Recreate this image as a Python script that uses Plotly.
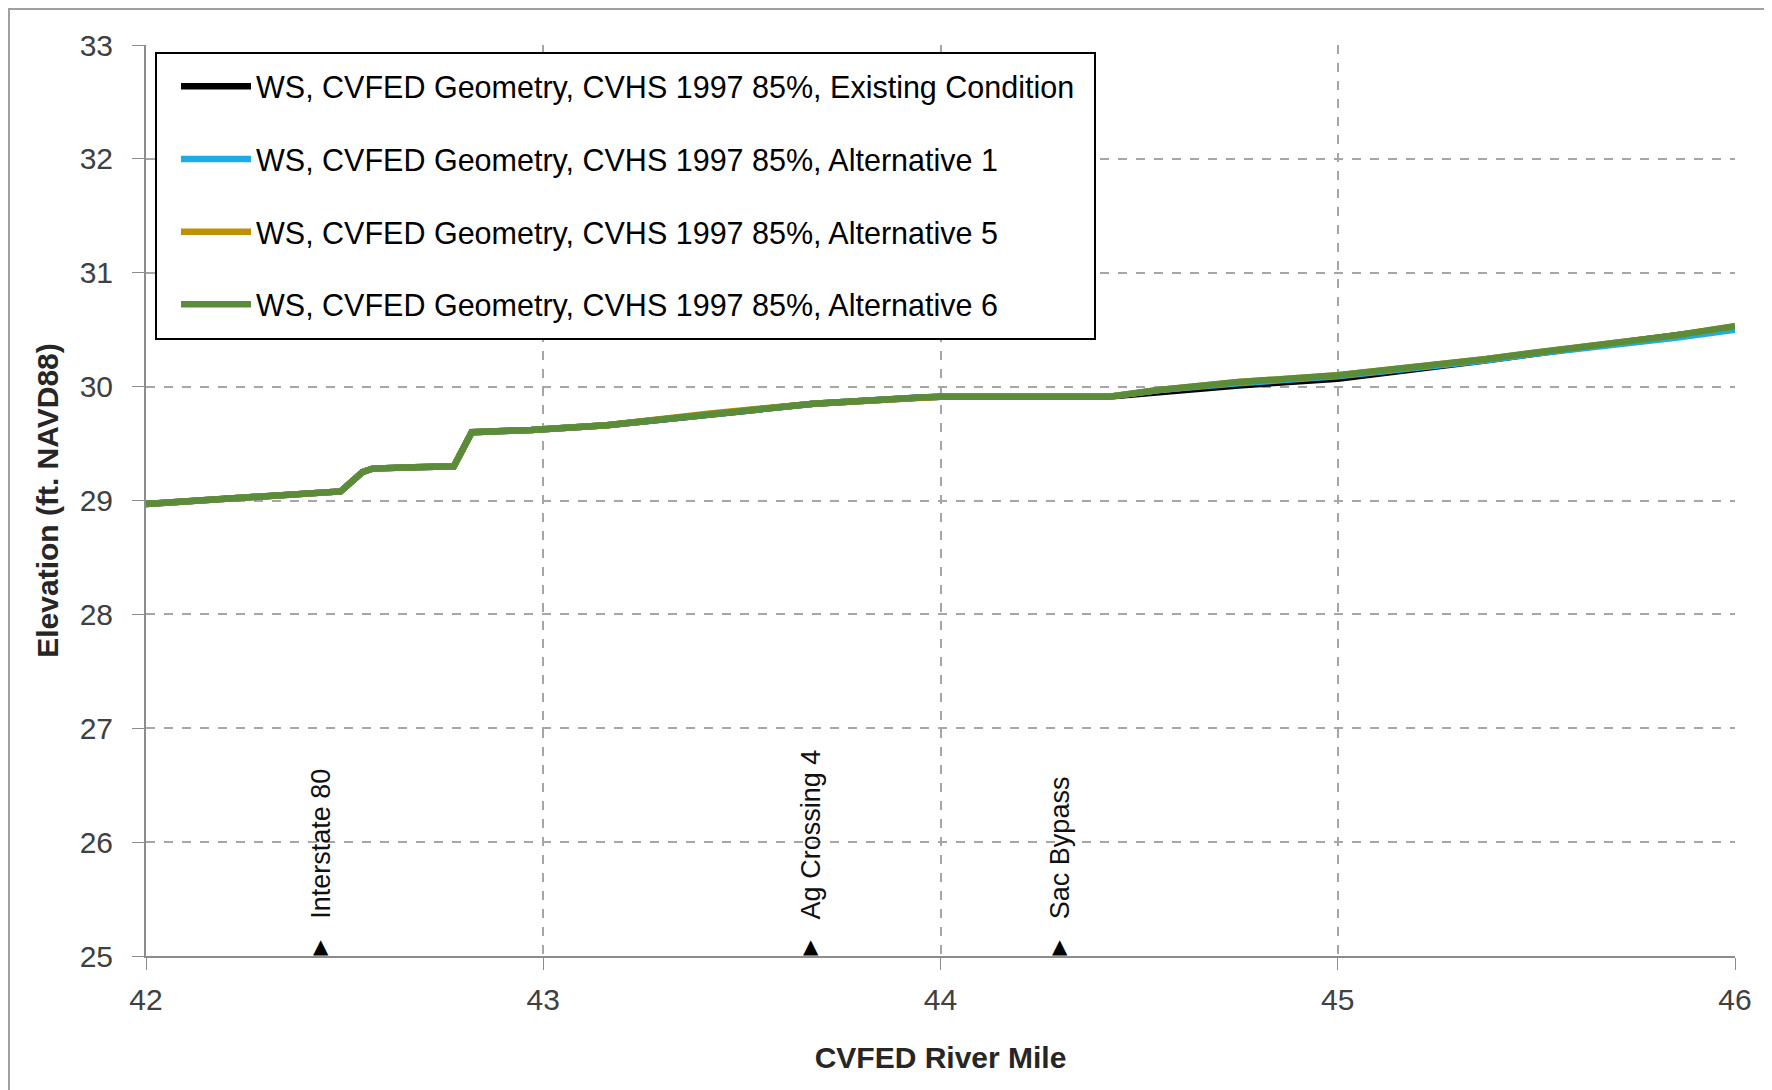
import plotly.graph_objects as go

# river mile stations
river_mile = [42.0, 42.1, 42.2, 42.3, 42.4, 42.49, 42.545, 42.57, 42.65, 42.775, 42.82, 42.9,
              42.97, 43.16, 43.42, 43.68, 43.95, 44.0, 44.2, 44.42, 44.55, 44.75, 45.0, 45.2,
              45.37, 45.5, 45.68, 45.85, 46.0]

ws_existing = [28.97, 28.99, 29.01, 29.04, 29.06, 29.08, 29.25, 29.28, 29.29, 29.30, 29.60, 29.61,
               29.62, 29.66, 29.76, 29.85, 29.905, 29.91, 29.91, 29.91, 29.95, 30.01, 30.07, 30.15,
               30.23, 30.29, 30.37, 30.45, 30.52]
ws_alt1 = [28.97, 28.99, 29.01, 29.04, 29.06, 29.08, 29.25, 29.28, 29.29, 29.30, 29.60, 29.61,
           29.62, 29.66, 29.76, 29.85, 29.905, 29.91, 29.91, 29.91, 29.97, 30.03, 30.09, 30.16,
           30.23, 30.29, 30.36, 30.43, 30.50]
ws_alt5 = [28.97, 28.99, 29.01, 29.04, 29.06, 29.08, 29.25, 29.28, 29.29, 29.30, 29.60, 29.61,
           29.62, 29.66, 29.765, 29.85, 29.905, 29.91, 29.91, 29.91, 29.97, 30.04, 30.10, 30.17,
           30.24, 30.30, 30.375, 30.45, 30.53]
ws_alt6 = [28.97, 28.99, 29.01, 29.04, 29.06, 29.08, 29.25, 29.28, 29.29, 29.30, 29.60, 29.61,
           29.62, 29.66, 29.76, 29.85, 29.905, 29.91, 29.91, 29.91, 29.97, 30.04, 30.10, 30.17,
           30.24, 30.30, 30.375, 30.45, 30.53]

series_names = ["WS, CVFED Geometry, CVHS 1997 85%, Existing Condition",
                "WS, CVFED Geometry, CVHS 1997 85%, Alternative 1",
                "WS, CVFED Geometry, CVHS 1997 85%, Alternative 5",
                "WS, CVFED Geometry, CVHS 1997 85%, Alternative 6"]
series_colors = ["#000000", "#1CADE4", "#BF9000", "#5B8C3A"]

# landmarks along the river
landmark_names = ["Interstate 80", "Ag Crossing 4", "Sac Bypass"]
landmark_miles = [42.44, 43.675, 44.30]

y_ticks = [25, 26, 27, 28, 29, 30, 31, 32, 33]
x_ticks = [42, 43, 44, 45, 46]

W, H = 1772, 1090
OFF = 8  # page body margin
ml, mr, mt, mb = 146 - OFF, 37 + OFF, 45 - OFF, 134 + OFF
pw = W - ml - mr
ph = H - mt - mb


def px(sx):
    return (sx - OFF - ml) / pw


def py(sy):
    return 1 - (sy - OFF - mt) / ph


fig = go.Figure()
for i, ys in enumerate([ws_existing, ws_alt1, ws_alt5, ws_alt6]):
    fig.add_trace(go.Scatter(x=river_mile, y=ys, mode="lines", name=series_names[i],
                             legendgroup="g%d" % i,
                             line=dict(color=series_colors[i], width=6.5)))

for name, mile in zip(landmark_names, landmark_miles):
    fig.add_annotation(x=mile, y=25, text="\u25B2", showarrow=False, yanchor="bottom",
                       yshift=-4, font=dict(size=20, color="black", family="DejaVu Sans"))
    fig.add_annotation(x=mile, y=25, text=name, showarrow=False, textangle=-90,
                       yanchor="bottom", yshift=35,
                       font=dict(size=27, color="#111111", family="Liberation Sans, Arial"))

# outer chart border
fig.add_shape(type="rect", xref="paper", yref="paper",
              x0=px(9), x1=px(1766), y0=py(H + 30), y1=py(OFF + 1),
              line=dict(color="#A0A0A0", width=2), layer="below")
# legend frame
fig.add_shape(type="rect", xref="paper", yref="paper",
              x0=px(156), x1=px(1095), y0=py(339), y1=py(53),
              fillcolor="white", line=dict(color="black", width=2), layer="above")

fig.update_layout(
    width=W, height=H,
    margin=dict(l=ml, r=mr, t=mt, b=mb),
    paper_bgcolor="white", plot_bgcolor="white",
    showlegend=True,
    legend=dict(x=px(176), y=py(60), xanchor="left", yanchor="top",
                bgcolor="rgba(0,0,0,0)", borderwidth=0,
                tracegroupgap=30, itemwidth=70,
                font=dict(size=30.5, color="black", family="Liberation Sans, Arial")),
    xaxis=dict(range=[42, 46], tickvals=x_ticks, showgrid=True, gridcolor="#A6A6A6", griddash="dash",
               gridwidth=1.5, showline=True, linecolor="#8C8C8C", linewidth=2,
               ticks="outside", ticklen=12, tickcolor="#8C8C8C", ticklabelstandoff=4,
               tickfont=dict(size=30, color="#404040", family="Liberation Sans, Arial"),
               title=dict(text="<b>CVFED River Mile</b>", standoff=32,
                          font=dict(size=30, color="#262626", family="Liberation Sans, Arial")),
               zeroline=False),
    yaxis=dict(range=[25, 33], tickvals=y_ticks, showgrid=True, gridcolor="#A6A6A6", griddash="dash",
               gridwidth=1.5, showline=True, linecolor="#8C8C8C", linewidth=2,
               ticks="outside", ticklen=12, tickcolor="#8C8C8C", ticklabelstandoff=13,
               tickfont=dict(size=30, color="#404040", family="Liberation Sans, Arial"),
               title=dict(text="<b>Elevation (ft. NAVD88)</b>", standoff=12,
                          font=dict(size=30, color="#262626", family="Liberation Sans, Arial")),
               zeroline=False),
)

fig.write_html("out.html")
